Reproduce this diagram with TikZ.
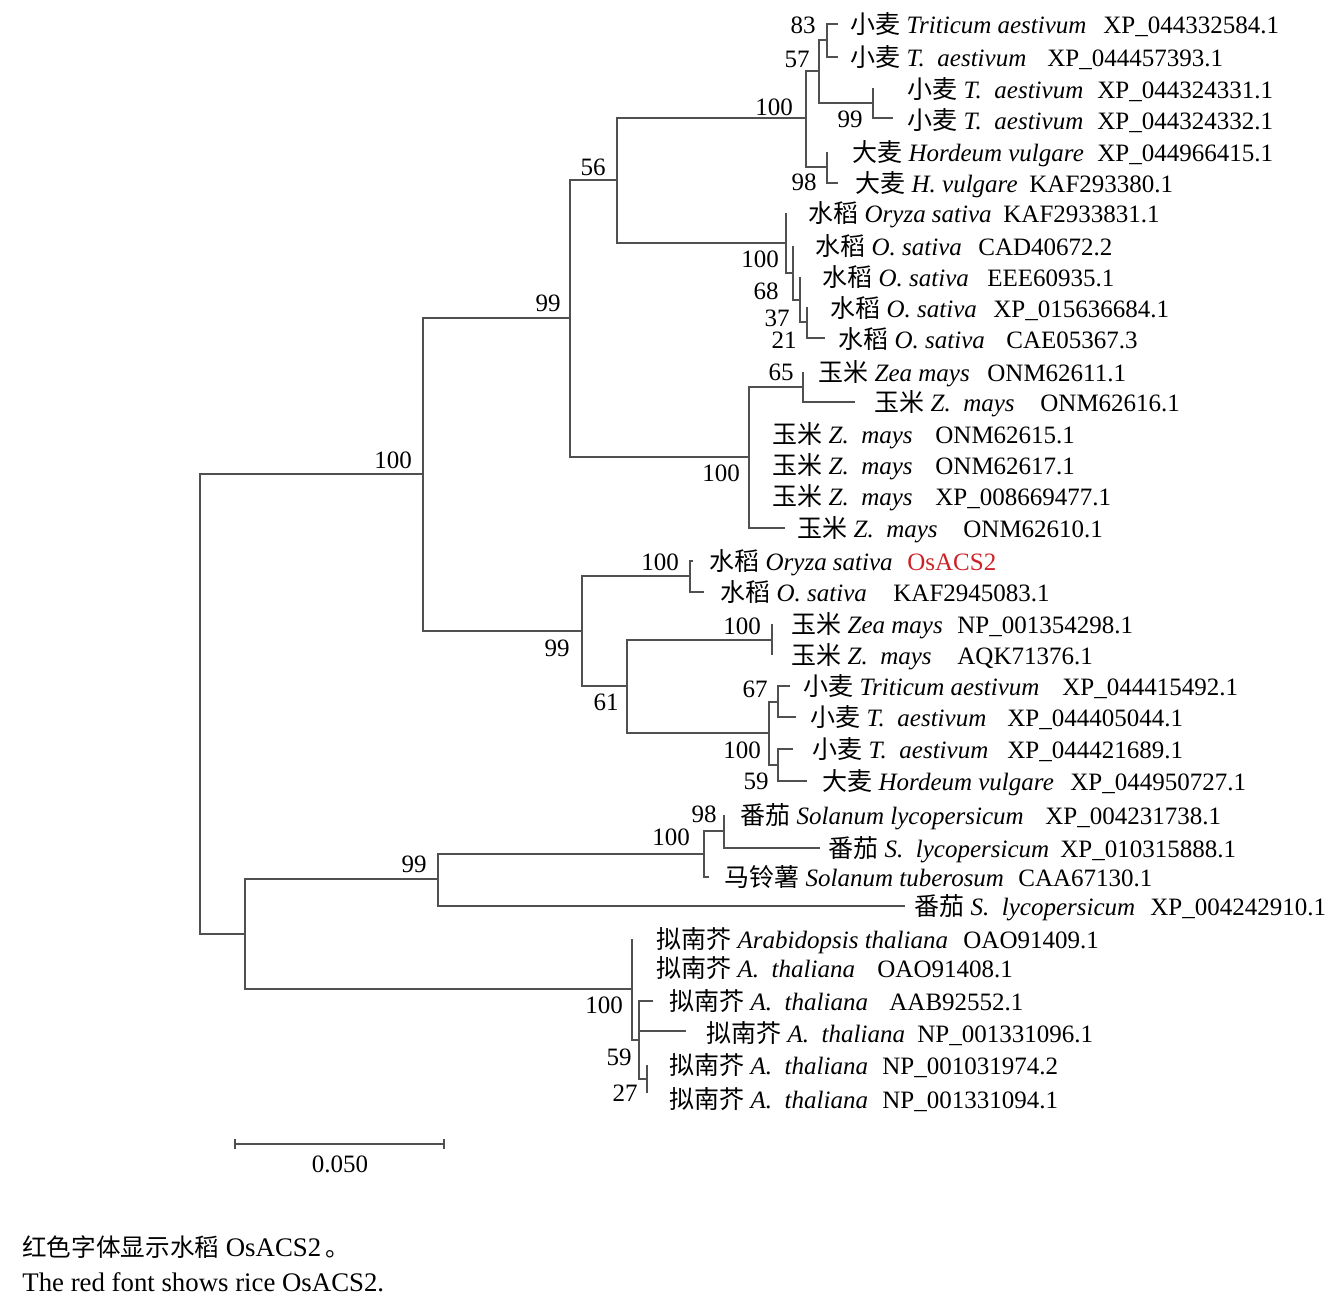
\documentclass[tikz,border=0pt]{standalone}
\usepackage{fontspec}
\setmainfont{Liberation Serif}
\newfontfamily\cjk{Noto Sans CJK SC}
\newcommand\zhtxt[1]{{\cjk #1}}
\definecolor{branch}{RGB}{80,80,80}
\definecolor{redtxt}{RGB}{205,35,40}
\begin{document}
\begin{tikzpicture}[x=0.5pt,y=-0.5pt,
  br/.style={draw=branch,line width=1.35pt},
  lab/.style={anchor=base west,inner sep=0pt,font=\fontsize{12.5}{15}\selectfont},
  acc/.style={anchor=base west,inner sep=0pt,font=\fontsize{12.5}{15}\selectfont},
  bs/.style={inner sep=0pt,font=\fontsize{12.5}{15}\selectfont},
  captxt/.style={anchor=base west,inner sep=0pt,font=\fontsize{13.4}{16}\selectfont}]
\useasboundingbox (0,0) rectangle (1344,1303);
% internal nodes
\coordinate (root) at (200,704);
\coordinate (A) at (423,474);
\coordinate (C) at (570,318);
\coordinate (K56) at (617,180);
\coordinate (W) at (806,118);
\coordinate (Q57) at (819,71);
\coordinate (Q83) at (827,40);
\coordinate (Q99) at (873,103);
\coordinate (Q98) at (827,167);
\coordinate (R100) at (786,243);
\coordinate (N68) at (793,273);
\coordinate (N37) at (800,300);
\coordinate (N21) at (807,322);
\coordinate (Z) at (749,457);
\coordinate (Z65) at (803,387);
\coordinate (D) at (582,631);
\coordinate (P) at (690,576);
\coordinate (E) at (627,686);
\coordinate (ZP) at (772,640);
\coordinate (F) at (769,733);
\coordinate (G) at (778,702);
\coordinate (H) at (778,765);
\coordinate (B) at (245,934);
\coordinate (S) at (438,879);
\coordinate (S100) at (704,854);
\coordinate (S98) at (724,831);
\coordinate (M100) at (632,989);
\coordinate (M59) at (639,1040);
\coordinate (M27) at (647,1079);
% leaf ends
\coordinate (e1) at (838,24);
\coordinate (e2) at (838,57);
\coordinate (e3) at (873,88);
\coordinate (e4) at (893,118);
\coordinate (e5) at (827,152);
\coordinate (e6) at (838,183);
\coordinate (e7) at (786,213);
\coordinate (e8) at (793,246);
\coordinate (e9) at (800,277);
\coordinate (e10) at (807,307);
\coordinate (e11) at (825,338);
\coordinate (e12) at (803,372);
\coordinate (e13) at (855,402);
\coordinate (e14) at (749,434);
\coordinate (e15) at (749,465);
\coordinate (e16) at (749,496);
\coordinate (e17) at (785,528);
\coordinate (e18) at (693,561);
\coordinate (e19) at (704,592);
\coordinate (e20) at (772,624);
\coordinate (e21) at (772,655);
\coordinate (e22) at (790,686);
\coordinate (e23) at (796,717);
\coordinate (e24) at (793,749);
\coordinate (e25) at (807,781);
\coordinate (e26) at (724,815);
\coordinate (e27) at (820,848);
\coordinate (e28) at (709,877);
\coordinate (e29) at (905,906);
\coordinate (e30) at (632,939);
\coordinate (e31) at (632,968);
\coordinate (e32) at (653,1001);
\coordinate (e33) at (686,1031);
\coordinate (e34) at (647,1065);
\coordinate (e35) at (647,1093);
% branches
\draw[br] (root) |- (A); \draw[br] (root) |- (B);
\draw[br] (A) |- (C); \draw[br] (A) |- (D);
\draw[br] (C) |- (K56); \draw[br] (C) |- (Z);
\draw[br] (K56) |- (W); \draw[br] (K56) |- (R100);
\draw[br] (W) |- (Q57); \draw[br] (W) |- (Q98);
\draw[br] (Q57) |- (Q83); \draw[br] (Q57) |- (Q99);
\draw[br] (Q83) |- (e1); \draw[br] (Q83) |- (e2);
\draw[br] (Q99) |- (e3); \draw[br] (Q99) |- (e4);
\draw[br] (Q98) |- (e5); \draw[br] (Q98) |- (e6);
\draw[br] (R100) |- (e7); \draw[br] (R100) |- (N68);
\draw[br] (N68) |- (e8); \draw[br] (N68) |- (N37);
\draw[br] (N37) |- (e9); \draw[br] (N37) |- (N21);
\draw[br] (N21) |- (e10); \draw[br] (N21) |- (e11);
\draw[br] (Z) |- (Z65); \draw[br] (Z) |- (e14); \draw[br] (Z) |- (e15);
\draw[br] (Z) |- (e16); \draw[br] (Z) |- (e17);
\draw[br] (Z65) |- (e12); \draw[br] (Z65) |- (e13);
\draw[br] (D) |- (P); \draw[br] (D) |- (E);
\draw[br] (P) |- (e18); \draw[br] (P) |- (e19);
\draw[br] (E) |- (ZP); \draw[br] (E) |- (F);
\draw[br] (ZP) |- (e20); \draw[br] (ZP) |- (e21);
\draw[br] (F) |- (G); \draw[br] (F) |- (H);
\draw[br] (G) |- (e22); \draw[br] (G) |- (e23);
\draw[br] (H) |- (e24); \draw[br] (H) |- (e25);
\draw[br] (B) |- (S); \draw[br] (B) |- (M100);
\draw[br] (S) |- (S100); \draw[br] (S) |- (e29);
\draw[br] (S100) |- (S98); \draw[br] (S100) |- (e28);
\draw[br] (S98) |- (e26); \draw[br] (S98) |- (e27);
\draw[br] (M100) |- (e30); \draw[br] (M100) |- (e31); \draw[br] (M100) |- (M59);
\draw[br] (M59) |- (e32); \draw[br] (M59) |- (e33); \draw[br] (M59) |- (M27);
\draw[br] (M27) |- (e34); \draw[br] (M27) |- (e35);
% bootstrap values
\node[bs] (b83) at (803,25) {83};
\node[bs] (b57) at (797,59) {57};
\node[bs] (bW) at (774,107) {100};
\node[bs] (bQ99) at (850,119) {99};
\node[bs] (bQ98) at (804,182) {98};
\node[bs] (b56) at (593,167) {56};
\node[bs] (bC) at (548,303) {99};
\node[bs] (bR) at (760,259) {100};
\node[bs] (b68) at (766,291) {68};
\node[bs] (b37) at (777,318) {37};
\node[bs] (b21) at (784,340) {21};
\node[bs] (b65) at (781,372) {65};
\node[bs] (bZ) at (721,473) {100};
\node[bs] (bA) at (393,460) {100};
\node[bs] (bP) at (660,562) {100};
\node[bs] (bD) at (557,648) {99};
\node[bs] (bE) at (606,702) {61};
\node[bs] (bZP) at (742,626) {100};
\node[bs] (bG) at (755,689) {67};
\node[bs] (bF) at (742,750) {100};
\node[bs] (bH) at (756,781) {59};
\node[bs] (bS98) at (704,814) {98};
\node[bs] (bS100) at (671,837) {100};
\node[bs] (bS) at (414,864) {99};
\node[bs] (bM100) at (604,1005) {100};
\node[bs] (bM59) at (619,1057) {59};
\node[bs] (bM27) at (625,1093) {27};
% leaf labels
\node[lab] (t1) at (850,33) {\zhtxt{小麦} \textit{Triticum aestivum}};
\node[acc] (a1) at (1103,33) {XP\_044332584.1};
\node[lab] (t2) at (850,66) {\zhtxt{小麦} \textit{T.\ \ aestivum}};
\node[acc] (a2) at (1047,66) {XP\_044457393.1};
\node[lab] (t3) at (907,98) {\zhtxt{小麦} \textit{T.\ \ aestivum}};
\node[acc] (a3) at (1097,98) {XP\_044324331.1};
\node[lab] (t4) at (907,129) {\zhtxt{小麦} \textit{T.\ \ aestivum}};
\node[acc] (a4) at (1097,129) {XP\_044324332.1};
\node[lab] (t5) at (852,161) {\zhtxt{大麦} \textit{Hordeum vulgare}};
\node[acc] (a5) at (1097,161) {XP\_044966415.1};
\node[lab] (t6) at (855,192) {\zhtxt{大麦} \textit{H.\ vulgare}};
\node[acc] (a6) at (1029,192) {KAF293380.1};
\node[lab] (t7) at (808,222) {\zhtxt{水稻} \textit{Oryza sativa}};
\node[acc] (a7) at (1003,222) {KAF2933831.1};
\node[lab] (t8) at (815,255) {\zhtxt{水稻} \textit{O.\ sativa}};
\node[acc] (a8) at (978,255) {CAD40672.2};
\node[lab] (t9) at (822,286) {\zhtxt{水稻} \textit{O.\ sativa}};
\node[acc] (a9) at (987,286) {EEE60935.1};
\node[lab] (t10) at (830,317) {\zhtxt{水稻} \textit{O.\ sativa}};
\node[acc] (a10) at (993,317) {XP\_015636684.1};
\node[lab] (t11) at (838,348) {\zhtxt{水稻} \textit{O.\ sativa}};
\node[acc] (a11) at (1006,348) {CAE05367.3};
\node[lab] (t12) at (818,381) {\zhtxt{玉米} \textit{Zea mays}};
\node[acc] (a12) at (987,381) {ONM62611.1};
\node[lab] (t13) at (874,411) {\zhtxt{玉米} \textit{Z.\ \ mays}};
\node[acc] (a13) at (1040,411) {ONM62616.1};
\node[lab] (t14) at (772,443) {\zhtxt{玉米} \textit{Z.\ \ mays}};
\node[acc] (a14) at (935,443) {ONM62615.1};
\node[lab] (t15) at (772,474) {\zhtxt{玉米} \textit{Z.\ \ mays}};
\node[acc] (a15) at (935,474) {ONM62617.1};
\node[lab] (t16) at (772,505) {\zhtxt{玉米} \textit{Z.\ \ mays}};
\node[acc] (a16) at (935,505) {XP\_008669477.1};
\node[lab] (t17) at (797,537) {\zhtxt{玉米} \textit{Z.\ \ mays}};
\node[acc] (a17) at (963,537) {ONM62610.1};
\node[lab] (t18) at (709,570) {\zhtxt{水稻} \textit{Oryza sativa}};
\node[acc,text=redtxt] (a18) at (907,570) {OsACS2};
\node[lab] (t19) at (720,601) {\zhtxt{水稻} \textit{O.\ sativa}};
\node[acc] (a19) at (893,601) {KAF2945083.1};
\node[lab] (t20) at (791,633) {\zhtxt{玉米} \textit{Zea mays}};
\node[acc] (a20) at (957,633) {NP\_001354298.1};
\node[lab] (t21) at (791,664) {\zhtxt{玉米} \textit{Z.\ \ mays}};
\node[acc] (a21) at (957,664) {AQK71376.1};
\node[lab] (t22) at (803,695) {\zhtxt{小麦} \textit{Triticum aestivum}};
\node[acc] (a22) at (1062,695) {XP\_044415492.1};
\node[lab] (t23) at (810,726) {\zhtxt{小麦} \textit{T.\ \ aestivum}};
\node[acc] (a23) at (1007,726) {XP\_044405044.1};
\node[lab] (t24) at (812,758) {\zhtxt{小麦} \textit{T.\ \ aestivum}};
\node[acc] (a24) at (1007,758) {XP\_044421689.1};
\node[lab] (t25) at (822,790) {\zhtxt{大麦} \textit{Hordeum vulgare}};
\node[acc] (a25) at (1070,790) {XP\_044950727.1};
\node[lab] (t26) at (740,824) {\zhtxt{番茄} \textit{Solanum lycopersicum}};
\node[acc] (a26) at (1045,824) {XP\_004231738.1};
\node[lab] (t27) at (828,857) {\zhtxt{番茄} \textit{S.\ \ lycopersicum}};
\node[acc] (a27) at (1060,857) {XP\_010315888.1};
\node[lab] (t28) at (724,886) {\zhtxt{马铃薯} \textit{Solanum tuberosum}};
\node[acc] (a28) at (1018,886) {CAA67130.1};
\node[lab] (t29) at (914,915) {\zhtxt{番茄} \textit{S.\ \ lycopersicum}};
\node[acc] (a29) at (1150,915) {XP\_004242910.1};
\node[lab] (t30) at (656,948) {\zhtxt{拟南芥} \textit{Arabidopsis thaliana}};
\node[acc] (a30) at (963,948) {OAO91409.1};
\node[lab] (t31) at (656,977) {\zhtxt{拟南芥} \textit{A.\ \ thaliana}};
\node[acc] (a31) at (877,977) {OAO91408.1};
\node[lab] (t32) at (669,1010) {\zhtxt{拟南芥} \textit{A.\ \ thaliana}};
\node[acc] (a32) at (889,1010) {AAB92552.1};
\node[lab] (t33) at (706,1042) {\zhtxt{拟南芥} \textit{A.\ \ thaliana}};
\node[acc] (a33) at (917,1042) {NP\_001331096.1};
\node[lab] (t34) at (669,1074) {\zhtxt{拟南芥} \textit{A.\ \ thaliana}};
\node[acc] (a34) at (882,1074) {NP\_001031974.2};
\node[lab] (t35) at (669,1108) {\zhtxt{拟南芥} \textit{A.\ \ thaliana}};
\node[acc] (a35) at (882,1108) {NP\_001331094.1};
% scale bar
\coordinate (sb1) at (235,1144);
\coordinate (sb2) at (444,1144);
\draw[br] (sb1) -- (sb2);
\draw[br] (235,1139) -- (235,1149);
\draw[br] (444,1139) -- (444,1149);
\node[bs] (sbl) at (340,1164) {0.050};
% caption
\node[captxt] (cap1) at (22,1256) {{\fontsize{12.3}{16}\selectfont\zhtxt{红色字体显示水稻}} OsACS2\,{\fontsize{12.3}{16}\selectfont\zhtxt{。}}};
\node[captxt] (cap2) at (22,1291) {The red font shows rice OsACS2.};
\end{tikzpicture}
\end{document}
